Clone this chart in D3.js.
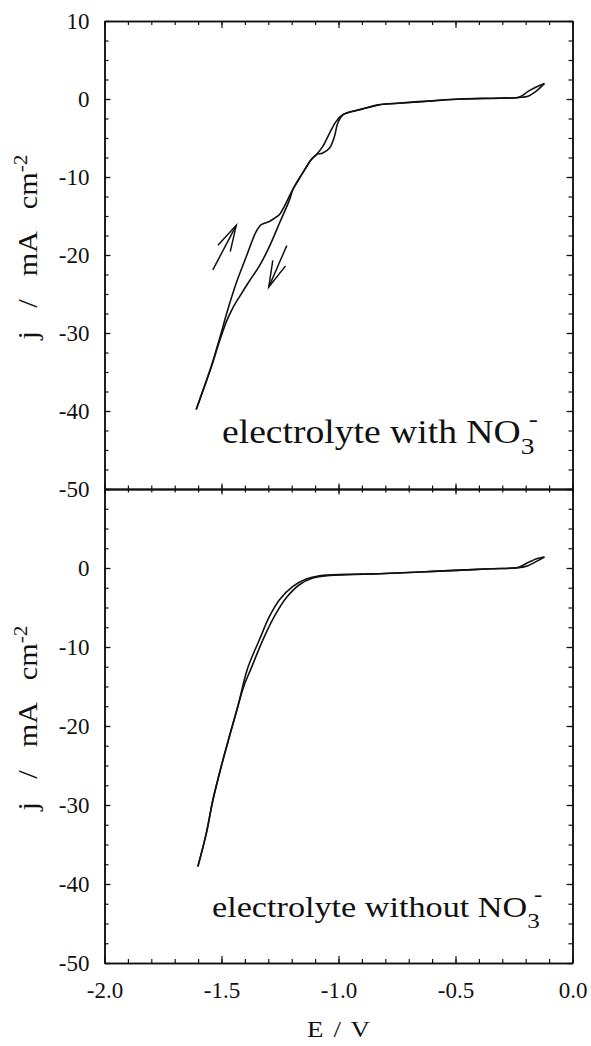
<!DOCTYPE html>
<html>
<head>
<meta charset="utf-8">
<script src="https://cdn.jsdelivr.net/npm/d3@7"></script>
<style>
  html, body { margin: 0; padding: 0; background: #fff; }
  svg { display: block; }
  text { font-family: "Liberation Serif", "Times New Roman", serif; fill: #111; }
</style>
</head>
<body>
<svg id="chart" width="591" height="1046"></svg>
<script>
// ---------- data ----------
const xMajorTicks = [-2.0, -1.5, -1.0, -0.5, 0.0];
const xMinorTicks = d3.range(-20, 1).map(d => d / 10);
const yMajorTicks = [-50, -40, -30, -20, -10, 0, 10];
const yMinorTicks = d3.range(-20, 5).map(d => d * 2.5);
const yLabelsTop = [-50, -40, -30, -20, -10, 0, 10];
const yLabelsBottom = [-50, -40, -30, -20, -10, 0];

// Top panel (electrolyte with NO3-): cathodic sweep
const topFwdE = [-0.12, -0.155, -0.19, -0.23, -0.31, -0.48, -0.60, -0.74, -0.83, -0.90, -0.98, -1.003, -1.017, -1.038, -1.067, -1.095, -1.117, -1.153, -1.195, -1.209, -1.252, -1.295, -1.338, -1.38, -1.42, -1.452, -1.48, -1.51, -1.544, -1.573, -1.608];
const topFwdJ = [2.0, 1.0, 0.35, 0.2, 0.1, 0.0, -0.25, -0.55, -0.75, -1.3, -2.0, -3.07, -4.79, -6.28, -6.92, -7.14, -7.78, -9.48, -11.6, -12.9, -15.9, -18.9, -21.4, -23.3, -25.2, -26.8, -28.6, -31.2, -34.4, -36.9, -39.8];
// Top panel: anodic (return) sweep
const topRevE = [-1.608, -1.573, -1.544, -1.509, -1.473, -1.437, -1.394, -1.352, -1.33, -1.295, -1.27, -1.252, -1.195, -1.153, -1.117, -1.095, -1.067, -1.038, -1.010, -0.982, -0.94, -0.899, -0.86, -0.825, -0.74, -0.60, -0.48, -0.31, -0.226, -0.19, -0.155, -0.12];
const topRevJ = [-39.8, -36.8, -34.3, -30.8, -27.0, -23.6, -20.2, -17.0, -16.1, -15.7, -15.2, -14.8, -11.6, -9.48, -7.78, -7.14, -6.07, -4.36, -2.87, -2.01, -1.6, -1.28, -1.0, -0.73, -0.52, -0.22, 0.0, 0.13, 0.26, 0.97, 1.54, 2.0];

// Bottom panel (electrolyte without NO3-): cathodic sweep
const botFwdE = [-0.12, -0.15, -0.19, -0.23, -0.35, -0.5, -0.65, -0.825, -0.967, -1.038, -1.110, -1.167, -1.224, -1.274, -1.323, -1.373, -1.405, -1.430, -1.466, -1.501, -1.537, -1.565, -1.601];
const botFwdJ = [1.4, 0.9, 0.3, 0.05, -0.1, -0.3, -0.5, -0.72, -0.85, -0.94, -1.27, -2.12, -3.80, -6.13, -9.09, -12.67, -15.0, -17.5, -21.3, -25.1, -29.4, -33.6, -37.8];
// Bottom panel: anodic sweep
const botRevE = [-1.601, -1.565, -1.537, -1.501, -1.466, -1.430, -1.388, -1.338, -1.295, -1.252, -1.195, -1.138, -1.081, -0.967, -0.825, -0.65, -0.5, -0.35, -0.23, -0.19, -0.15, -0.12];
const botRevJ = [-37.8, -33.6, -29.4, -25.1, -21.3, -17.5, -12.67, -9.09, -6.13, -4.02, -2.33, -1.39, -0.98, -0.81, -0.72, -0.5, -0.3, -0.1, 0.1, 0.7, 1.2, 1.4];

// Sweep-direction arrows (top panel), tail -> tip in data units
const arrowTailE = [-1.537, -1.221];
const arrowTailJ = [-21.9, -18.8];
const arrowTipE  = [-1.437, -1.298];
const arrowTipJ  = [-16.2, -24.1];

const panelLabels = ["electrolyte with NO", "electrolyte without NO"];

// ---------- drawing ----------
const svg = d3.select("#chart");
const left = 104.5, right = 572.5;
const x = d3.scaleLinear().domain([-2, 0]).range([left, right]);
const yTop = d3.scaleLinear().domain([-50, 10]).range([489, 21]);
const yBot = d3.scaleLinear().domain([-50, 10]).range([963, 489]);

const fontSize = 23;
const axisColor = "#111";
const fmtY = d => String(d);
const fmtX = d => d.toFixed(1);

function styleAxis(g) {
  g.selectAll("path.domain").attr("stroke", axisColor).attr("stroke-width", 1.5);
  g.selectAll(".tick line").attr("stroke", axisColor).attr("stroke-width", 1.2);
  g.selectAll(".tick text").attr("font-size", fontSize).attr("fill", "#111")
    .attr("font-family", '"Liberation Serif", "Times New Roman", serif');
}

function drawYAxes(yScale, labelVals) {
  svg.append("g").attr("transform", `translate(${left},0)`)
    .call(d3.axisLeft(yScale).tickValues(yMinorTicks).tickSize(-4).tickSizeOuter(0).tickFormat(""))
    .call(styleAxis);
  svg.append("g").attr("transform", `translate(${left},0)`)
    .call(d3.axisLeft(yScale).tickValues(yMajorTicks).tickSize(-6).tickSizeOuter(0)
      .tickPadding(15).tickFormat(d => labelVals.includes(d) ? fmtY(d) : ""))
    .call(styleAxis);
  svg.append("g").attr("transform", `translate(${right},0)`)
    .call(d3.axisRight(yScale).tickValues(yMinorTicks).tickSize(-4).tickSizeOuter(0).tickFormat(""))
    .call(styleAxis);
  svg.append("g").attr("transform", `translate(${right},0)`)
    .call(d3.axisRight(yScale).tickValues(yMajorTicks).tickSize(-6).tickSizeOuter(0).tickFormat(""))
    .call(styleAxis);
}
drawYAxes(yTop, yLabelsTop);
drawYAxes(yBot, yLabelsBottom);

svg.append("g").attr("transform", `translate(0,${yTop(10)})`)
  .call(d3.axisTop(x).tickValues(xMinorTicks).tickSize(-4).tickSizeOuter(0).tickFormat(""))
  .call(styleAxis);
svg.append("g").attr("transform", `translate(0,${yTop(10)})`)
  .call(d3.axisTop(x).tickValues(xMajorTicks).tickSize(-7).tickSizeOuter(0).tickFormat(""))
  .call(styleAxis);

[d3.axisTop, d3.axisBottom].forEach(ax => {
  svg.append("g").attr("transform", `translate(0,${yTop(-50)})`)
    .call(ax(x).tickValues(xMinorTicks).tickSize(3.5).tickSizeOuter(0).tickFormat(""))
    .call(styleAxis);
  svg.append("g").attr("transform", `translate(0,${yTop(-50)})`)
    .call(ax(x).tickValues(xMajorTicks).tickSize(5.5).tickSizeOuter(0).tickFormat(""))
    .call(styleAxis);
});

svg.append("g").attr("transform", `translate(0,${yBot(-50)})`)
  .call(d3.axisBottom(x).tickValues(xMinorTicks).tickSize(-4).tickSizeOuter(0).tickFormat(""))
  .call(styleAxis);
svg.append("g").attr("transform", `translate(0,${yBot(-50)})`)
  .call(d3.axisBottom(x).tickValues(xMajorTicks).tickSize(-7).tickSizeOuter(0)
    .tickPadding(19).tickFormat(fmtX))
  .call(styleAxis);

// axis titles (glyphs slightly wider than Liberation Serif in the reference)
const stretch = 1.12;
svg.append("g").attr("transform", `translate(${(left + right) / 2},1037) scale(${stretch},1)`)
  .append("text").attr("text-anchor", "middle").attr("font-size", 24)
  .attr("word-spacing", 3).text("E / V");

function yTitle(cy) {
  const t = svg.append("g")
    .attr("transform", `translate(37,${cy}) rotate(-90) scale(${stretch},1)`)
    .append("text").attr("text-anchor", "middle").attr("font-size", 27)
    .attr("word-spacing", 14);
  t.append("tspan").text("j / mA cm");
  t.append("tspan").attr("dy", -10).attr("font-size", 19).text("-2");
}
yTitle((yTop(10) + yTop(-50)) / 2 - 8);
yTitle((yBot(10) + yBot(-50)) / 2 - 8);

// curves
const line = d3.line().curve(d3.curveCatmullRom.alpha(0.5));
function drawCurve(E, J, yScale) {
  const pts = E.map((e, i) => [x(e), yScale(J[i])]);
  svg.append("path").attr("d", line(pts)).attr("fill", "none")
    .attr("stroke", "#111").attr("stroke-width", 1.6).attr("stroke-linejoin", "round");
}
drawCurve(topFwdE, topFwdJ, yTop);
drawCurve(topRevE, topRevJ, yTop);
drawCurve(botFwdE, botFwdJ, yBot);
drawCurve(botRevE, botRevJ, yBot);

// arrows
arrowTailE.forEach((e, i) => {
  const x0 = x(e), y0 = yTop(arrowTailJ[i]);
  const x1 = x(arrowTipE[i]), y1 = yTop(arrowTipJ[i]);
  const ang = Math.atan2(y0 - y1, x0 - x1);
  const len = 27, half = 15 * Math.PI / 180;
  const b1 = [x1 + len * Math.cos(ang + half), y1 + len * Math.sin(ang + half)];
  const b2 = [x1 + len * Math.cos(ang - half), y1 + len * Math.sin(ang - half)];
  const g = svg.append("g").attr("stroke", "#111").attr("stroke-width", 1.5).attr("fill", "none");
  g.append("line").attr("x1", x0).attr("y1", y0).attr("x2", x1).attr("y2", y1);
  g.append("path").attr("d", `M${b1[0]},${b1[1]}L${x1},${y1}L${b2[0]},${b2[1]}`);
});

// panel annotations
function annot(label, startX, baseY, fs, subFs) {
  const t = svg.append("g").attr("transform", `translate(${startX},${baseY}) scale(1.14,1)`)
    .append("text").attr("font-size", fs);
  t.append("tspan").text(label);
  t.append("tspan").attr("dy", 11).attr("font-size", subFs).text("3");
  t.append("tspan").attr("dx", -5).attr("dy", -27).attr("font-size", subFs).text("-");
}
annot(panelLabels[0], 222, 443, 33, 24);
annot(panelLabels[1], 212, 917, 30, 22);
</script>
</body>
</html>
